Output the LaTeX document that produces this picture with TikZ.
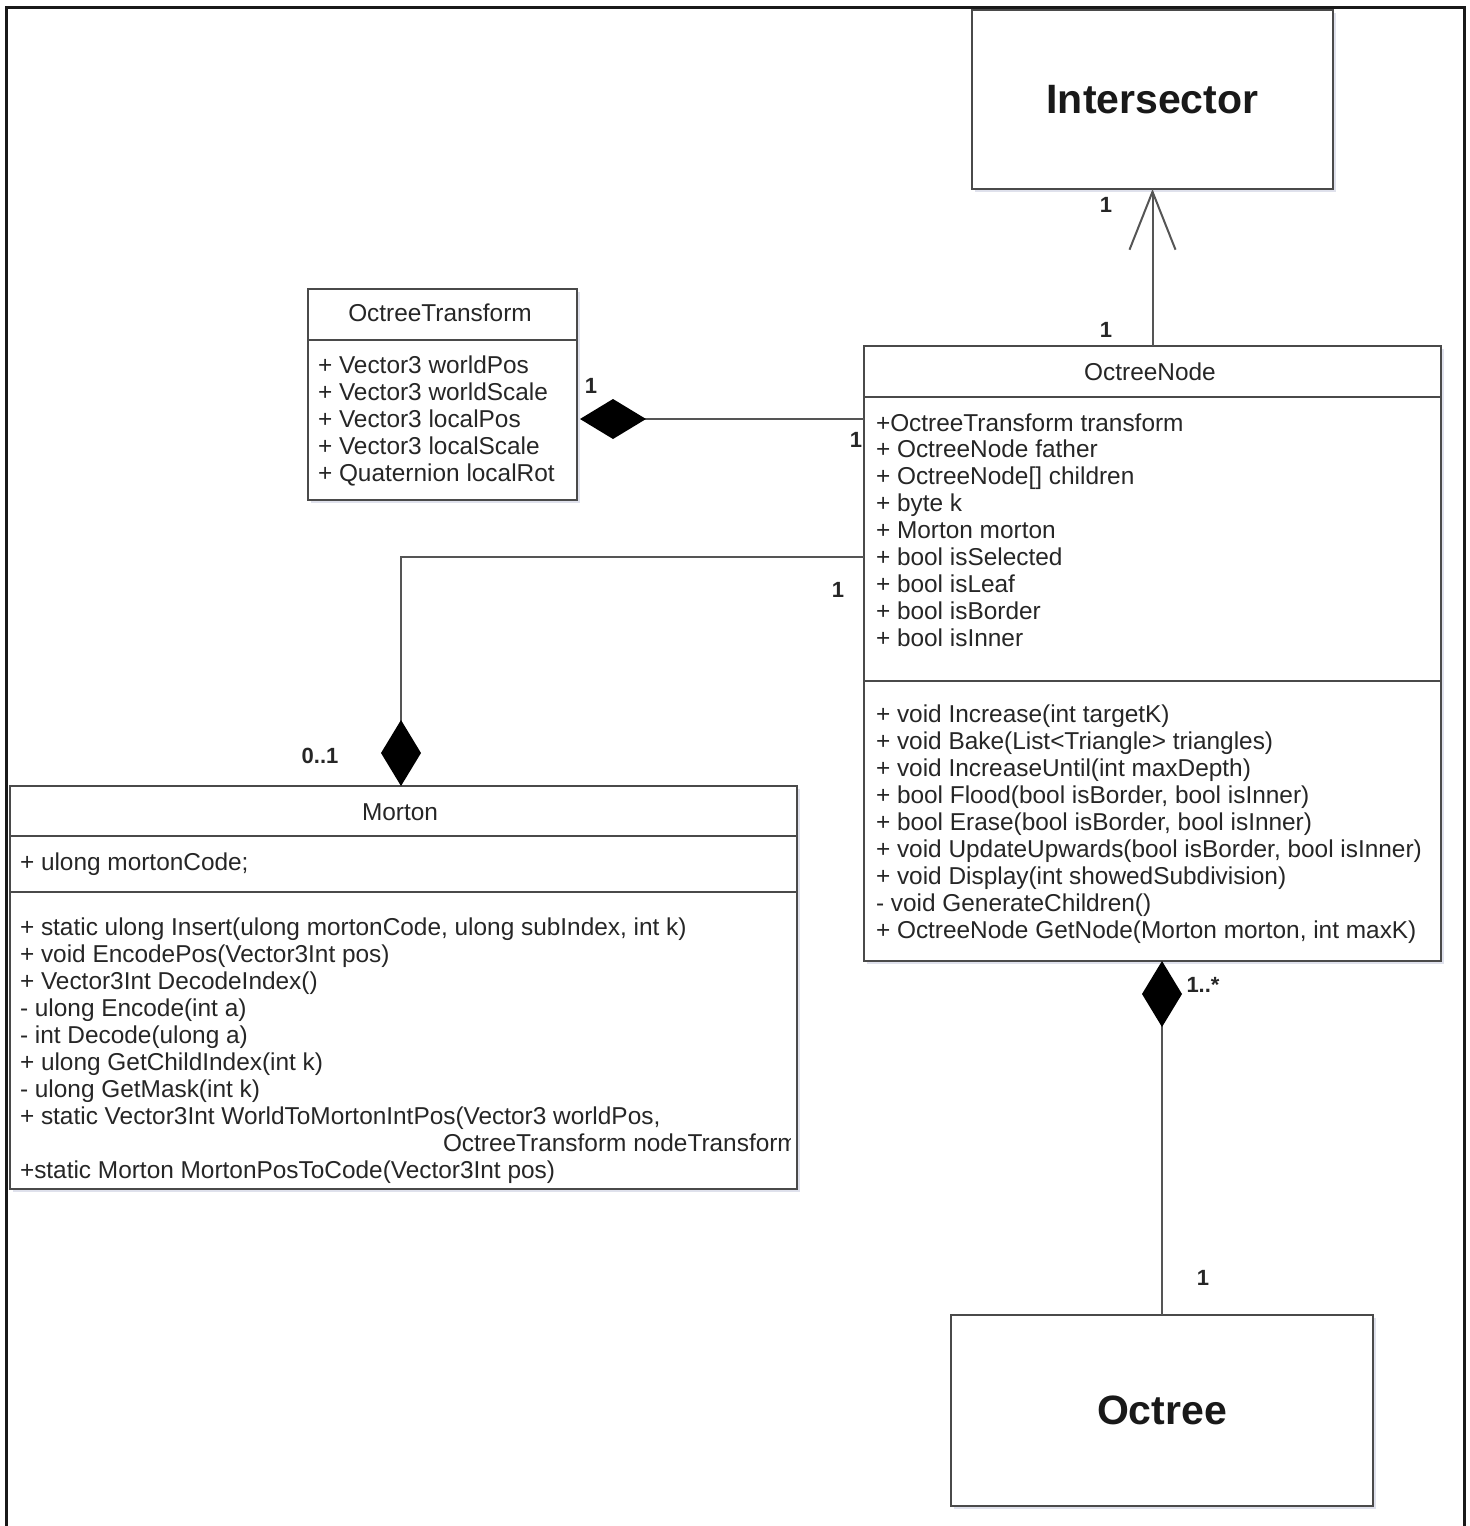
\documentclass[tikz,border=0pt]{standalone}
\usepackage{fontspec}
\setmainfont{Liberation Sans}
\usetikzlibrary{arrows.meta,fit,shadows}
\definecolor{txt}{HTML}{262626}
\definecolor{boxline}{HTML}{4A4A4A}
\definecolor{linec}{HTML}{555555}
\definecolor{shadowc}{HTML}{A3A8C8}
\tikzset{
  comptip/.tip={Diamond[length=33pt,width=20pt,color=black,fill=black]},
  opentip/.tip={Straight Barb[length=29pt,width=23pt]},
}
\begin{document}
\begin{tikzpicture}[x=0.5pt,y=-0.5pt,
  every node/.style={inner sep=0pt,outer sep=0pt},
  classbox/.style={draw=boxline,line width=1pt,fill=white,
    drop shadow={shadow xshift=1.5pt,shadow yshift=-1.5pt,opacity=0.35,fill=shadowc}},
  divider/.style={draw=boxline,line width=1pt},
  member/.style={anchor=base west,text=txt,font=\fontsize{12.2}{14}\selectfont},
  ctitle/.style={text=txt,font=\fontsize{12.2}{14}\selectfont},
  bigtitle/.style={text=black!90,font=\fontsize{20.5}{24}\selectfont\bfseries},
  mult/.style={text=txt,font=\fontsize{11}{13}\selectfont\bfseries},
  link/.style={draw=linec,line width=1pt},
]
\useasboundingbox (0,0) rectangle (1470,1526);

% outer frame (open at the bottom)
\draw[line width=1.5pt,black!90] (6,1530) -- (6,7) -- (1464,7) -- (1464,1530);

% ---------- class boxes ----------
\node[classbox,fit={(972,10) (1333,189)}] (inter) {};
\node[bigtitle] (intert) at (inter.center) {Intersector};

\node[classbox,fit={(951,1315) (1373,1506)}] (oct) {};
\node[bigtitle] (octt) at (oct.center) {Octree};

% OctreeTransform
\node[classbox,fit={(308,289) (577,500)}] (otr) {};
\draw[divider] (308,340) -- (577,340);
\node[ctitle] (otrt) at (440,313) {OctreeTransform};
\foreach \mline [count=\i] in {{+ Vector3 worldPos},{+ Vector3 worldScale},
  {+ Vector3 localPos},{+ Vector3 localScale},{+ Quaternion localRot}}
  \node[member] (ota\i) at (318,{373+27*(\i-1)}) {\mline};

% OctreeNode
\node[classbox,fit={(864,346) (1441,961)}] (onode) {};
\draw[divider] (864,397) -- (1441,397);
\draw[divider] (864,681) -- (1441,681);
\node[ctitle] (onodet) at (1150,372) {OctreeNode};
\foreach \mline [count=\i] in {{+OctreeTransform transform},{+ OctreeNode father},
  {+ OctreeNode[] children},{+ byte k},{+ Morton morton},{+ bool isSelected},
  {+ bool isLeaf},{+ bool isBorder},{+ bool isInner}}
  \node[member] (ona\i) at (876,{431+26.9*(\i-1)}) {\mline};
\foreach \mline [count=\i] in {{+ void Increase(int targetK)},
  {+ void Bake(List<Triangle> triangles)},
  {+ void IncreaseUntil(int maxDepth)},
  {+ bool Flood(bool isBorder, bool isInner)},
  {+ bool Erase(bool isBorder, bool isInner)},
  {+ void UpdateUpwards(bool isBorder, bool isInner)},
  {+ void Display(int showedSubdivision)},
  {- void GenerateChildren()},
  {+ OctreeNode GetNode(Morton morton, int maxK)}}
  \node[member] (onm\i) at (876,{722+27*(\i-1)}) {\mline};

% Morton
\node[classbox,fit={(10,786) (797,1189)}] (mort) {};
\draw[divider] (10,836) -- (797,836);
\draw[divider] (10,892) -- (797,892);
\node[ctitle] (mortt) at (400,812) {Morton};
\node[member] (ma1) at (20,870) {+ ulong mortonCode;};
\foreach \mline [count=\i] in {{+ static ulong Insert(ulong mortonCode, ulong subIndex, int k)},
  {+ void EncodePos(Vector3Int pos)},
  {+ Vector3Int DecodeIndex()},
  {- ulong Encode(int a)},
  {- int Decode(ulong a)},
  {+ ulong GetChildIndex(int k)},
  {- ulong GetMask(int k)},
  {+ static Vector3Int WorldToMortonIntPos(Vector3 worldPos,}}
  \node[member] (mm\i) at (20,{935+27*(\i-1)}) {\mline};
\begin{scope}
  \clip (10,786) rectangle (790,1189);
  \node[member] (mmc) at (443,1151) {OctreeTransform nodeTransform};
\end{scope}
\node[member] (mml) at (20,1178) {+static Morton MortonPosToCode(Vector3Int pos)};

% ---------- relations ----------
\coordinate (rowT) at (700,419);
\coordinate (rowM) at (700,557);
\coordinate (colM) at (401,700);

% OctreeNode uses Intersector
\draw[link,-opentip] (onode.north) -- (inter.south);
\node[mult] (m1) at (1106,205) {1};
\node[mult] (m2) at (1106,330) {1};

% OctreeTransform composed into OctreeNode
\draw[link,comptip-] ([xshift=1.5pt]otr.east |- rowT) -- (onode.west |- rowT);
\node[mult] (m3) at (591,386) {1};
\node[mult] (m4) at (856,440) {1};

% Morton composed into OctreeNode
\draw[link,-comptip] (onode.west |- rowM) -- (colM |- rowM) -- (colM |- mort.north);
\node[mult] (m5) at (838,590) {1};
\node[mult] (m6) at (320,756) {0..1};

% OctreeNode composed into Octree
\draw[link,-comptip] (oct.north) -- (oct.north |- onode.south);
\node[mult] (m7) at (1203,985) {1..*};
\node[mult] (m8) at (1203,1278) {1};
\end{tikzpicture}
\end{document}
